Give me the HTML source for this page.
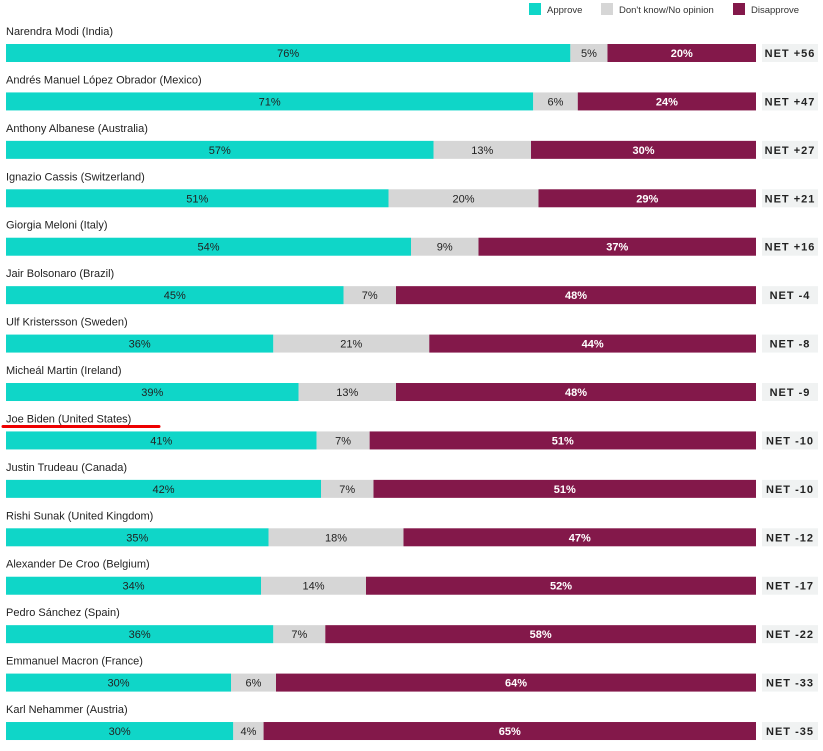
<!DOCTYPE html>
<html><head><meta charset="utf-8"><style>
body{margin:0;background:#fff;width:823px;height:746px;overflow:hidden;font-family:"Liberation Sans",sans-serif}
</style></head><body>
<svg id="c" width="823" height="746" xmlns="http://www.w3.org/2000/svg">
<g font-size="9.5" fill="#333">
<rect x="529" y="3" width="12" height="12" fill="#0fd6c8"/><text x="547" y="13">Approve</text>
<rect x="601" y="3" width="12" height="12" fill="#d6d6d6"/><text x="619" y="13">Don't know/No opinion</text>
<rect x="733" y="3" width="12" height="12" fill="#83184a"/><text x="751" y="13">Disapprove</text>
</g>
</svg>
<script>
const leaders=["Narendra Modi (India)","Andrés Manuel López Obrador (Mexico)","Anthony Albanese (Australia)","Ignazio Cassis (Switzerland)","Giorgia Meloni (Italy)","Jair Bolsonaro (Brazil)","Ulf Kristersson (Sweden)","Micheál Martin (Ireland)","Joe Biden (United States)","Justin Trudeau (Canada)","Rishi Sunak (United Kingdom)","Alexander De Croo (Belgium)","Pedro Sánchez (Spain)","Emmanuel Macron (France)","Karl Nehammer (Austria)"];
const approve=[76,71,57,51,54,45,36,39,41,42,35,34,36,30,30];
const dontKnow=[5,6,13,20,9,7,21,13,7,7,18,14,7,6,4];
const disapprove=[20,24,30,29,37,48,44,48,51,51,47,52,58,64,65];
const net=["+56","+47","+27","+21","+16","-4","-8","-9","-10","-10","-12","-17","-22","-33","-35"];
const svg=document.getElementById('c');const NS="http://www.w3.org/2000/svg";
const X0=6,W=750,Y0=44,STEP=48.43,H=18;
function mk(t,a,p){const e=document.createElementNS(NS,t);for(const k in a)e.setAttribute(k,a[k]);(p||svg).appendChild(e);return e;}
leaders.forEach((name,i)=>{
 const y=Y0+i*STEP;
 const g=mk('g',{});
 
 
 const lb=mk('text',{x:6,y:y-9,'font-size':11,fill:'#222'},g);lb.textContent=name;
 
 
 const vals=[approve[i],dontKnow[i],disapprove[i]];const sum=vals[0]+vals[1]+vals[2];
 const cols=['#0fd6c8','#d6d6d6','#83184a'];const names=['bar-approve','bar-dont-know','bar-disapprove'];
 let x=X0;
 vals.forEach((v,j)=>{const w=v/sum*W;
  const r=mk('rect',{x:x,y:y,width:w,height:H,fill:cols[j]},g);
  
  
  const t=mk('text',{x:x+w/2,y:y+13,'font-size':11,'text-anchor':'middle',fill:j==2?'#fff':'#222','font-weight':j==2?'bold':'normal'},g);t.textContent=v+'%';
  x+=w;});
 const nb=mk('rect',{x:762,y:y,width:56,height:H,fill:'#f0f2f2'},g);
 
 
 const nt=mk('text',{x:790,y:y+13,'font-size':11,'text-anchor':'middle',fill:'#222','font-weight':'bold','letter-spacing':'1'},g);nt.textContent='NET '+net[i];
 if(name.startsWith('Joe Biden')){const u=mk('line',{x1:3,y1:y-5,x2:159,y2:y-5,stroke:'#e00',"stroke-width":3,"stroke-linecap":"round"},g);
  
  }
});
</script>
</body></html>
